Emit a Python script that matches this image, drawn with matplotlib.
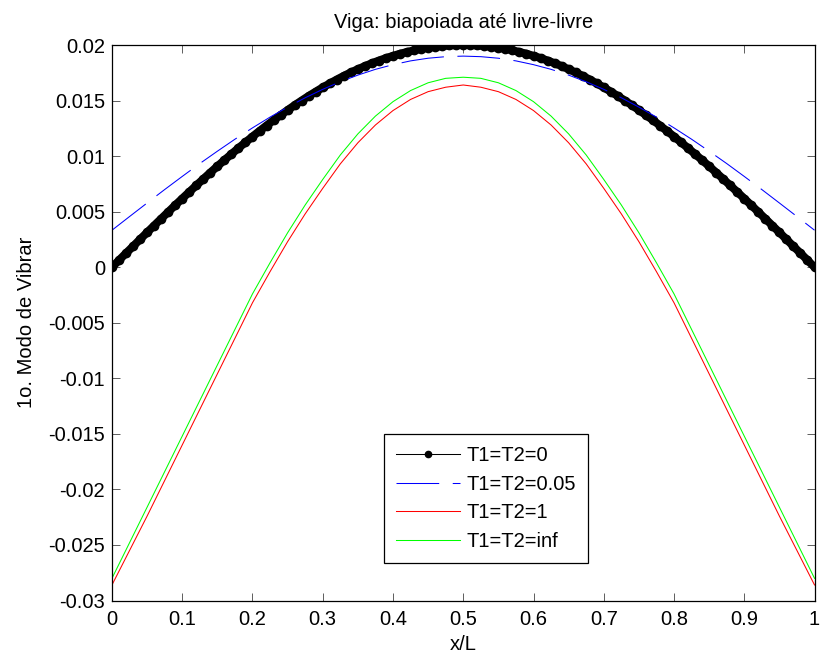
import numpy as np
import matplotlib
matplotlib.use("Agg")
import matplotlib.pyplot as plt
from matplotlib.lines import Line2D

# ---- data ----
x_fine = np.linspace(0, 1, 101)
x_modes = np.linspace(0, 1, 41)

y_t0 = [0, 0.00063, 0.00126, 0.00188, 0.00251, 0.00313, 0.00375, 0.00436, 0.00497, 0.00558,
        0.00618, 0.00677, 0.00736, 0.00794, 0.00852, 0.00908, 0.00964, 0.01018, 0.01072, 0.01124,
        0.01176, 0.01226, 0.01275, 0.01323, 0.01369, 0.01414, 0.01458, 0.01500, 0.01541, 0.01580,
        0.01618, 0.01654, 0.01689, 0.01722, 0.01753, 0.01782, 0.01810, 0.01836, 0.01860, 0.01882,
        0.01902, 0.01921, 0.01937, 0.01952, 0.01965, 0.01975, 0.01984, 0.01991, 0.01996, 0.01999,
        0.02000,
        0.01999, 0.01996, 0.01991, 0.01984, 0.01975, 0.01965, 0.01952, 0.01937, 0.01921, 0.01902,
        0.01882, 0.01860, 0.01836, 0.01810, 0.01782, 0.01753, 0.01722, 0.01689, 0.01654, 0.01618,
        0.01580, 0.01541, 0.01500, 0.01458, 0.01414, 0.01369, 0.01323, 0.01275, 0.01226, 0.01176,
        0.01124, 0.01072, 0.01018, 0.00964, 0.00908, 0.00852, 0.00794, 0.00736, 0.00677, 0.00618,
        0.00558, 0.00497, 0.00436, 0.00375, 0.00313, 0.00251, 0.00188, 0.00126, 0.00063, 0]

y_t005 = [0.00333, 0.00456, 0.00578, 0.00699, 0.00817, 0.00933, 0.01044, 0.01152, 0.01254, 0.01351,
          0.01441, 0.01525, 0.01601, 0.01669, 0.01729, 0.01781, 0.01823, 0.01857, 0.01881, 0.01895,
          0.01900,
          0.01895, 0.01881, 0.01857, 0.01823, 0.01781, 0.01729, 0.01669, 0.01601, 0.01525, 0.01441,
          0.01351, 0.01254, 0.01152, 0.01044, 0.00933, 0.00817, 0.00699, 0.00578, 0.00456, 0.00333]

y_t1 = [-0.0286, -0.0255, -0.0224, -0.0192, -0.0160, -0.0128, -0.0096, -0.0064, -0.0032, -0.0004,
        0.0023, 0.0048, 0.0071, 0.0093, 0.0112, 0.0128, 0.0141, 0.0151, 0.0158, 0.0162,
        0.0164,
        0.0162, 0.0158, 0.0151, 0.0141, 0.0128, 0.0112, 0.0093, 0.0071, 0.0048, 0.0023,
        -0.0004, -0.0032, -0.0064, -0.0096, -0.0128, -0.0160, -0.0192, -0.0224, -0.0255, -0.0286]

y_tinf = [-0.0280, -0.0248, -0.0216, -0.0184, -0.0152, -0.0120, -0.0088, -0.0056, -0.0024, 0.0004,
          0.0031, 0.0056, 0.0079, 0.0101, 0.0120, 0.0136, 0.0149, 0.0159, 0.0166, 0.0170,
          0.0171,
          0.0170, 0.0166, 0.0159, 0.0149, 0.0136, 0.0120, 0.0101, 0.0079, 0.0056, 0.0031,
          0.0004, -0.0024, -0.0056, -0.0088, -0.0120, -0.0152, -0.0184, -0.0216, -0.0248, -0.0280]

series_labels = ["T1=T2=0", "T1=T2=0.05", "T1=T2=1", "T1=T2=inf"]

xticks = [0, 0.1, 0.2, 0.3, 0.4, 0.5, 0.6, 0.7, 0.8, 0.9, 1]
xtick_labels = ["0", "0.1", "0.2", "0.3", "0.4", "0.5", "0.6", "0.7", "0.8", "0.9", "1"]
yticks = [-0.03, -0.025, -0.02, -0.015, -0.01, -0.005, 0, 0.005, 0.01, 0.015, 0.02]
ytick_labels = ["-0.03", "-0.025", "-0.02", "-0.015", "-0.01", "-0.005", "0",
                "0.005", "0.01", "0.015", "0.02"]

title = "Viga: biapoiada até livre-livre"
xlabel = "x/L"
ylabel = "1o. Modo de Vibrar"

# ---- figure ----
plt.rcParams['font.family'] = ['Liberation Sans', 'DejaVu Sans']
FS = 14.5

fig = plt.figure(figsize=(8.21, 6.56), dpi=100)
ax = fig.add_axes([0.1364, 0.0846, 0.9921 - 0.1364, 0.9314 - 0.0846])

ax.plot(x_fine, y_t0, color='black', lw=5.8, marker='.', ms=12, mec='black', mfc='black',
        solid_capstyle='round', solid_joinstyle='round')
ax.plot(x_modes, y_t005, color=(0, 0, 1), lw=0.75, dashes=(41, 13))
ax.plot(x_modes, y_t1, color=(1, 0, 0), lw=0.75)
ax.plot(x_modes, y_tinf, color=(0, 1, 0), lw=0.75)

ax.set_xlim(0, 1)
ax.set_ylim(-0.03, 0.02)
ax.set_xticks(xticks)
ax.set_xticklabels(xtick_labels, fontsize=FS)
ax.set_yticks(yticks)
ax.set_yticklabels(ytick_labels, fontsize=FS)
ax.tick_params(direction='in', length=5.5, width=0.6, top=True, right=True,
               color='#444444')
ax.tick_params(axis='x', pad=7)
ax.tick_params(axis='y', pad=5)
for s in ax.spines.values():
    s.set_linewidth(0.9)

ax.set_title(title, fontsize=FS, pad=12)
ax.set_xlabel(xlabel, fontsize=FS, labelpad=4)
ax.set_ylabel(ylabel, fontsize=FS, labelpad=9)

handles = [
    Line2D([], [], color='black', lw=0.75, marker='.', ms=9),
    Line2D([], [], color=(0, 0, 1), lw=0.75, dashes=(41, 13)),
    Line2D([], [], color=(1, 0, 0), lw=0.75),
    Line2D([], [], color=(0, 1, 0), lw=0.75),
]
leg = ax.legend(handles, series_labels, loc='lower left', bbox_to_anchor=(0.387, 0.0675),
                borderaxespad=0, fontsize=FS, handlelength=3.2, handletextpad=0.3,
                labelspacing=0.48, borderpad=0.6, numpoints=1, fancybox=False,
                framealpha=1, edgecolor='black')
leg.get_frame().set_linewidth(0.9)

fig.savefig("out.png", dpi=100)
